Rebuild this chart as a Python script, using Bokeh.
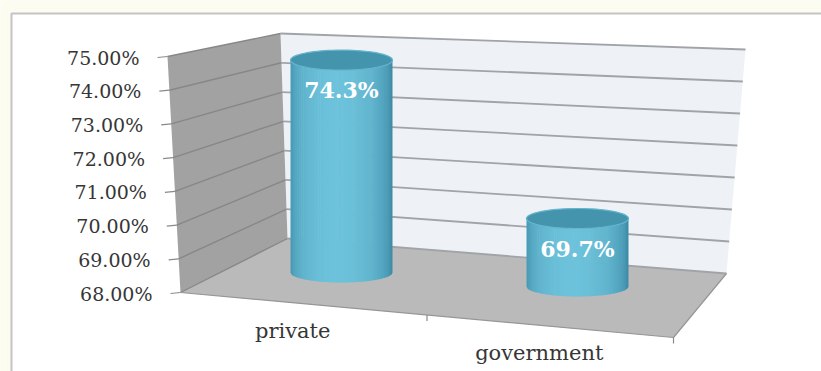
import numpy as np
from bokeh.plotting import figure
from bokeh.models import Range1d
from bokeh.embed import file_html
from bokeh.resources import INLINE
from bokeh.core.properties import value

# ---------------- data ----------------
categories = ["private", "government"]
values = [0.743, 0.697]
value_labels = ["74.3%", "69.7%"]
tick_values = [0.68, 0.69, 0.70, 0.71, 0.72, 0.73, 0.74, 0.75]
tick_labels = ["68.00%", "69.00%", "70.00%", "71.00%", "72.00%", "73.00%", "74.00%", "75.00%"]
y_min, y_max = 0.68, 0.75

# ---------------- layout (3-D box corners in page units) ----------------
W, H = 821, 371
FLB, FLT = (180, 292), (167, 56)
BLB, BLT = (287, 238), (280, 33)
BRB, BRT = (726, 273), (745, 49)
FRB = (673, 337)
# plane through the middle of the box where the cylinders stand
BAR_X0, BAR_X1 = 223, 695
BASE_Y0, BASE_Y1 = 265, 293
SCALE0, SCALE1 = 214, 302
HALF_W, ELL_B = 51, 10

def lerp(a, b, t):
    return (a[0] + (b[0] - a[0]) * t, a[1] + (b[1] - a[1]) * t)

def vfrac(v):
    return (v - y_min) / (y_max - y_min)

p = figure(width=W, height=H, x_range=Range1d(0, W), y_range=Range1d(H, 0),
           output_backend="svg", toolbar_location=None, min_border=0,
           x_axis_location=None, y_axis_location=None)
p.grid.visible = False
p.outline_line_color = None
p.background_fill_color = "#fcfcf0"
p.border_fill_color = "#fcfcf0"

# chart box
p.quad(left=[11], right=[W + 20], top=[13], bottom=[H + 20],
       fill_color="white", line_color="#c4c4c4", line_width=2)

# back wall
bw = [BLB, BLT, BRT, BRB]
p.patch([q[0] for q in bw], [q[1] for q in bw], fill_color="#eef2f7", line_color=None)
# left wall
lw = [FLB, FLT, BLT, BLB]
p.patch([q[0] for q in lw], [q[1] for q in lw], fill_color="#a2a2a2", line_color=None)
# floor
fl = [FLB, BLB, BRB, FRB]
p.patch([q[0] for q in fl], [q[1] for q in fl], fill_color="#bababa", line_color=None)

# gridlines, ticks, tick labels
bx0, by0, bx1, by1 = [], [], [], []
lx0, ly0, lx1, ly1 = [], [], [], []
tx0, ty0, tx1, ty1 = [], [], [], []
lab_x, lab_y = [], []
for tv in tick_values:
    t = vfrac(tv)
    f = lerp(FLB, FLT, t)
    bl = lerp(BLB, BLT, t)
    br = lerp(BRB, BRT, t)
    bx0.append(bl[0]); by0.append(bl[1]); bx1.append(br[0]); by1.append(br[1])
    lx0.append(f[0]); ly0.append(f[1]); lx1.append(bl[0]); ly1.append(bl[1])
    tx0.append(f[0] - 10); ty0.append(f[1] + 1); tx1.append(f[0]); ty1.append(f[1])
    lab_x.append(f[0] - 28); lab_y.append(f[1] + 1)
p.segment(bx0, by0, bx1, by1, line_color="#a0a4a9", line_width=1.8)
p.segment(lx0, ly0, lx1, ly1, line_color="#878787", line_width=1.4)
p.segment(tx0, ty0, tx1, ty1, line_color="#8a8a8a", line_width=1.2)
p.text(lab_x, lab_y, text=tick_labels, text_align="right", text_baseline="middle",
       text_font=value("DejaVu Serif"), text_font_size="19px", text_color="#363636")

# floor edges and category ticks
p.line([FLB[0], FRB[0], BRB[0]], [FLB[1], FRB[1], BRB[1]], line_color="#969696", line_width=1.2)
ctx0, cty0, ctx1, cty1 = [], [], [], []
for k in range(1, len(categories) + 1):
    q = lerp(FLB, FRB, k / len(categories))
    ctx0.append(q[0]); cty0.append(q[1]); ctx1.append(q[0]); cty1.append(q[1] + 6)
p.segment(ctx0, cty0, ctx1, cty1, line_color="#8a8a8a", line_width=1.2)

cat_x, cat_y = [], []
for i, c in enumerate(categories):
    q = lerp(FLB, FRB, (i + 0.5) / len(categories))
    cat_x.append(q[0] - 11); cat_y.append(q[1] + 27)
p.text(cat_x, cat_y, text=categories, text_align="center", text_baseline="middle",
       text_font=value("DejaVu Serif"), text_font_size="21px", text_color="#363636")

# cylinders
def shade(s):
    th = np.arcsin(np.clip(s, -1, 1))
    k = max(np.cos(th + 0.1), 0) ** 0.9
    dark = np.array([0x37, 0x84, 0xa0])
    light = np.array([0x6c, 0xc2, 0xda])
    c = dark + (light - dark) * k
    return "#%02x%02x%02x" % tuple(int(round(x)) for x in c)

N = 48
lab_vx, lab_vy = [], []
for i, v in enumerate(values):
    u = (i + 0.5) / len(values)
    cx = BAR_X0 + (BAR_X1 - BAR_X0) * u
    base = BASE_Y0 + (BASE_Y1 - BASE_Y0) * u
    scale = SCALE0 + (SCALE1 - SCALE0) * u
    top = base - vfrac(v) * scale
    edges = np.linspace(cx - HALF_W, cx + HALF_W, N + 1)
    xs, ys, cols = [], [], []
    for j in range(N):
        xl, xr = edges[j], min(edges[j + 1] + 0.6, cx + HALF_W)
        xx = np.linspace(xl, xr, 4)
        bot = base + ELL_B * np.sqrt(np.clip(1 - ((xx - cx) / HALF_W) ** 2, 0, 1))
        xs.append([xl, xr] + list(xx[::-1]))
        ys.append([top, top] + list(bot[::-1]))
        cols.append(shade(((xl + xr) / 2 - cx) / HALF_W))
    p.patches(xs, ys, fill_color=cols, line_color=None)
    ang = np.linspace(0, 2 * np.pi, 80)
    p.patch(cx + HALF_W * np.cos(ang), top + ELL_B * np.sin(ang),
            fill_color="#4494ae", line_color="#66b5cc", line_width=1.2)
    lab_vx.append(cx); lab_vy.append(top + 30)

p.text(lab_vx, lab_vy, text=value_labels, text_align="center", text_baseline="middle",
       text_font=value("DejaVu Serif"), text_font_size="22px", text_font_style="bold",
       text_color="white")

open("out.html", "w").write(file_html(p, INLINE))
